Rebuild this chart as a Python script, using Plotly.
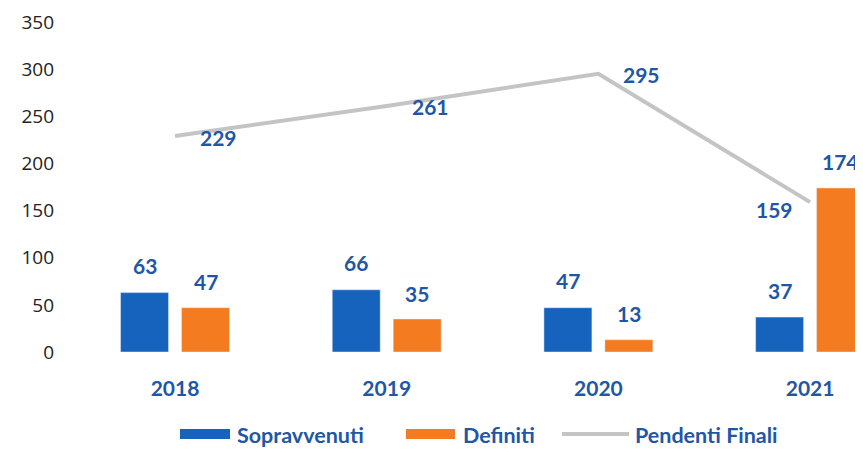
import plotly.graph_objects as go

years = ["2018", "2019", "2020", "2021"]
sopravvenuti = [63, 66, 47, 37]
definiti = [47, 35, 13, 174]
pendenti_finali = [229, 261, 295, 159]
y_ticks = [0, 50, 100, 150, 200, 250, 300, 350]
series_names = ["Sopravvenuti", "Definiti", "Pendenti Finali"]

BLUE = "#1663BE"
ORANGE = "#F47B20"
GRAY = "#C4C4C4"
TXT = "#1F56A6"
BOLD = "Lato, 'Open Sans', sans-serif"
LBL = dict(family=BOLD, size=21, color=TXT, weight="bold")

# page body has an 8px margin, so the figure is 8px smaller than the window
OFF = 8
W, H = 863 - OFF, 452 - OFF
TOP, BOT = 22, 352  # screen y of plot top / bottom

fig = go.Figure()
fig.add_trace(go.Bar(x=years, y=sopravvenuti, name=series_names[0], marker_color=BLUE, showlegend=False))
fig.add_trace(go.Bar(x=years, y=definiti, name=series_names[1], marker_color=ORANGE, showlegend=False))
fig.add_trace(go.Scatter(x=years, y=pendenti_finali, name=series_names[2], mode="lines",
                         line=dict(color=GRAY, width=4), showlegend=False))

ann = []
for i, v in enumerate(sopravvenuti):
    ann.append(dict(x=i, y=v, text=str(v), xshift=-30.5, yshift=27, showarrow=False,
                    yanchor="middle", font=LBL))
for i, v in enumerate(definiti):
    ann.append(dict(x=i, y=v, text=str(v), xshift=30.5, yshift=26, showarrow=False,
                    yanchor="middle", font=LBL))
for i, v in enumerate(pendenti_finali):
    last = i == len(pendenti_finali) - 1
    ann.append(dict(x=i, y=v, text=str(v), showarrow=False,
                    xanchor="right" if last else "left",
                    xshift=-15 if last else 23, yshift=-7 if last else -1,
                    yanchor="middle", font=LBL))

# manual legend (paper coords; plot area spans x 55..863 px, y TOP..BOT px on screen)
def px(x):
    return (x - 55) / 808.0

def py(y):
    return (BOT - y) / float(BOT - TOP)

legend_items = [
    (series_names[0], BLUE, "bar", 180, 230, 235),
    (series_names[1], ORANGE, "bar", 406, 455, 461),
    (series_names[2], GRAY, "line", 562, 629, 633),
]
shapes = []
for name, col, kind, x0, x1, tx in legend_items:
    if kind == "bar":
        shapes.append(dict(type="rect", xref="paper", yref="paper", x0=px(x0), x1=px(x1),
                           y0=py(439), y1=py(429), fillcolor=col, line=dict(width=0)))
    else:
        shapes.append(dict(type="line", xref="paper", yref="paper", x0=px(x0), x1=px(x1),
                           y0=py(434), y1=py(434), line=dict(color=col, width=4)))
    ann.append(dict(xref="paper", yref="paper", x=px(tx), y=py(435), text=name, showarrow=False,
                    xanchor="left", yanchor="middle",
                    font=dict(family=BOLD, size=21.5, color=TXT, weight="bold")))

fig.update_layout(
    width=W, height=H,
    margin=dict(l=55 - OFF, r=0, t=TOP - OFF, b=452 - BOT, autoexpand=False),
    paper_bgcolor="white", plot_bgcolor="white",
    barmode="group", bargap=0.424, bargroupgap=0.213,
    annotations=ann, shapes=shapes,
    xaxis=dict(type="category", range=[-0.567, 3.25], showgrid=False, showline=False, zeroline=False,
               ticks="outside", ticklen=18, tickcolor="rgba(0,0,0,0)", automargin=False,
               tickfont=dict(family=BOLD, size=21, color=TXT, weight="bold")),
    yaxis=dict(range=[0, 350], tickvals=y_ticks, showgrid=False, showline=False, zeroline=False,
               automargin=False, ticklabeloverflow="allow",
               tickfont=dict(family="'Open Sans', sans-serif", size=19, color="#222222")),
)

fig.write_html("out.html")
